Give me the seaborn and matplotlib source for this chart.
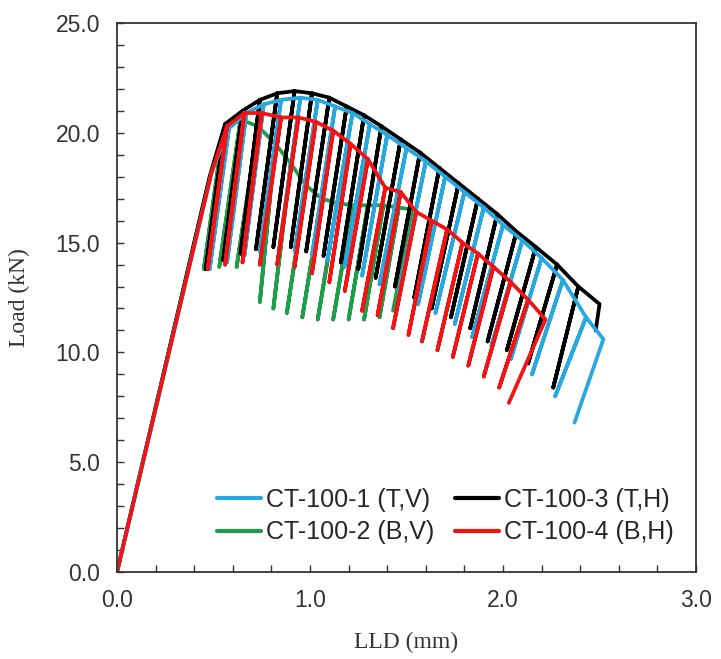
import pandas as pd
import seaborn as sns
import matplotlib.pyplot as plt
from matplotlib.ticker import MultipleLocator, FormatStrFormatter

# CT-100-1 (T,V)
ct1_start_x = [0.0, 0.49]
ct1_start_y = [0.0, 18.2]
ct1_top_x = [0.58, 0.67, 0.76, 0.85, 0.95, 1.04, 1.13, 1.22, 1.31, 1.40, 1.50,
             1.60, 1.70, 1.80, 1.90, 2.00, 2.10, 2.20, 2.31, 2.43, 2.52]
ct1_top_y = [20.2, 20.9, 21.3, 21.5, 21.6, 21.5, 21.2, 20.9, 20.4, 19.9, 19.3,
             18.7, 18.0, 17.3, 16.6, 15.8, 15.1, 14.3, 13.3, 11.6, 10.6]
ct1_bot_x = [0.48, 0.57, 0.66, 0.74, 0.84, 0.92, 1.01, 1.09, 1.18, 1.27, 1.36,
             1.46, 1.56, 1.65, 1.75, 1.84, 1.94, 2.04, 2.15, 2.27, 2.37]
ct1_bot_y = [13.8, 14.1, 14.4, 14.6, 14.7, 14.6, 14.4, 14.2, 13.9, 13.5, 13.1,
             12.7, 12.2, 11.8, 11.3, 10.7, 10.3, 9.7, 9.0, 8.0, 6.8]

# CT-100-2 (B,V)
ct2_start_x = [0.0, 0.48]
ct2_start_y = [0.0, 18.0]
ct2_top_x = [0.55, 0.64, 0.73, 0.82, 0.90, 0.98, 1.06, 1.14, 1.22, 1.30, 1.38,
             1.46, 1.53]
ct2_top_y = [20.1, 20.6, 20.3, 19.5, 18.6, 17.6, 17.0, 16.8, 16.7, 16.7, 16.7,
             16.6, 16.5]
ct2_bot_x = [0.45, 0.53, 0.62, 0.74, 0.81, 0.88, 0.96, 1.04, 1.12, 1.20, 1.28,
             1.36, 1.43]
ct2_bot_y = [13.8, 13.9, 13.9, 12.3, 12.0, 11.8, 11.6, 11.5, 11.5, 11.5, 11.5,
             11.6, 11.9]

# CT-100-3 (T,H)
ct3_start_x = [0.0, 0.48]
ct3_start_y = [0.0, 18.0]
ct3_top_x = [0.56, 0.65, 0.74, 0.83, 0.92, 1.01, 1.10, 1.19, 1.28, 1.37, 1.47,
             1.57, 1.67, 1.77, 1.87, 1.97, 2.07, 2.17, 2.28, 2.39, 2.50]
ct3_top_y = [20.4, 21.0, 21.5, 21.8, 21.9, 21.8, 21.6, 21.2, 20.8, 20.3, 19.7,
             19.1, 18.4, 17.7, 17.0, 16.3, 15.5, 14.8, 14.0, 13.0, 12.2]
ct3_bot_x = [0.46, 0.55, 0.64, 0.72, 0.81, 0.90, 0.98, 1.07, 1.16, 1.25, 1.34,
             1.44, 1.54, 1.63, 1.73, 1.83, 1.92, 2.02, 2.13, 2.26, 2.48]
ct3_bot_y = [13.8, 14.2, 14.5, 14.7, 14.8, 14.8, 14.6, 14.4, 14.1, 13.8, 13.4,
             13.0, 12.5, 12.0, 11.6, 11.1, 10.5, 10.1, 9.5, 8.4, 11.0]

# CT-100-4 (B,H)
ct4_start_x = [0.0, 0.49]
ct4_start_y = [0.0, 18.2]
ct4_top_x = [0.57, 0.66, 0.75, 0.85, 0.94, 1.03, 1.12, 1.21, 1.30, 1.39, 1.47,
             1.55, 1.63, 1.71, 1.79, 1.87, 1.95, 2.04, 2.13, 2.22]
ct4_top_y = [20.3, 20.9, 20.9, 20.7, 20.7, 20.5, 20.1, 19.5, 18.8, 17.5, 17.3,
             16.4, 16.0, 15.6, 15.0, 14.5, 13.9, 13.2, 12.4, 11.5]
ct4_bot_x = [0.47, 0.56, 0.65, 0.74, 0.83, 0.92, 1.01, 1.10, 1.18, 1.27, 1.35,
             1.43, 1.51, 1.58, 1.66, 1.74, 1.82, 1.90, 1.98, 2.03]
ct4_bot_y = [13.8, 14.0, 14.1, 14.0, 14.0, 13.9, 13.6, 13.2, 12.8, 11.9, 11.7,
             11.1, 10.8, 10.5, 10.1, 9.8, 9.4, 8.9, 8.4, 7.7]


def build_path(start_x, start_y, top_x, top_y, bot_x, bot_y):
    # envelope point -> unload to bottom -> reload back up, for each cycle
    xs, ys = list(start_x), list(start_y)
    n = len(top_x)
    for i in range(n):
        xs += [top_x[i], bot_x[i]]
        ys += [top_y[i], bot_y[i]]
        if i < n - 1:
            xs.append(top_x[i])
            ys.append(top_y[i])
    return pd.DataFrame({'LLD': xs, 'Load': ys})


series = {
    'CT-100-1 (T,V)': (build_path(ct1_start_x, ct1_start_y, ct1_top_x,
                                  ct1_top_y, ct1_bot_x, ct1_bot_y), '#29A8E0'),
    'CT-100-2 (B,V)': (build_path(ct2_start_x, ct2_start_y, ct2_top_x,
                                  ct2_top_y, ct2_bot_x, ct2_bot_y), '#1F9E4A'),
    'CT-100-3 (T,H)': (build_path(ct3_start_x, ct3_start_y, ct3_top_x,
                                  ct3_top_y, ct3_bot_x, ct3_bot_y), '#000000'),
    'CT-100-4 (B,H)': (build_path(ct4_start_x, ct4_start_y, ct4_top_x,
                                  ct4_top_y, ct4_bot_x, ct4_bot_y), '#F01414'),
}
draw_order = ['CT-100-2 (B,V)', 'CT-100-3 (T,H)', 'CT-100-1 (T,V)',
              'CT-100-4 (B,H)']
legend_order = ['CT-100-1 (T,V)', 'CT-100-2 (B,V)', 'CT-100-3 (T,H)',
                'CT-100-4 (B,H)']

sns.set_style('white')
plt.rcParams['font.family'] = ['Liberation Sans', 'DejaVu Sans']

fig = plt.figure(figsize=(7.21, 6.59), dpi=100)
ax = fig.add_axes([0.1623, 0.1320, 0.8031, 0.8331])

handles = {}
for name in draw_order:
    df, color = series[name]
    sns.lineplot(data=df, x='LLD', y='Load', sort=False, estimator=None,
                 color=color, lw=2.7, ax=ax, label=name)
    handles[name] = ax.lines[-1]
    handles[name].set_solid_joinstyle('round')
    handles[name].set_solid_capstyle('round')

ax.set_xlim(0, 3.0)
ax.set_ylim(0, 25.0)
ax.xaxis.set_major_locator(MultipleLocator(1.0))
ax.xaxis.set_minor_locator(MultipleLocator(0.2))
ax.yaxis.set_major_locator(MultipleLocator(5.0))
ax.yaxis.set_minor_locator(MultipleLocator(1.0))
ax.xaxis.set_major_formatter(FormatStrFormatter('%.1f'))
ax.yaxis.set_major_formatter(FormatStrFormatter('%.1f'))
ax.tick_params(which='both', direction='in', length=5, width=1.0,
               color='#333333', bottom=True, left=True, top=False, right=False)
ax.tick_params(which='major', labelsize=16.5, pad=12, labelcolor='#333333')
for sp in ax.spines.values():
    sp.set_color('#333333')
    sp.set_linewidth(1.3)

ax.set_xlabel('LLD (mm)', family='Liberation Serif', fontsize=17,
              color='#333333')
ax.set_ylabel('Load (kN)', family='Liberation Serif', fontsize=17,
              color='#333333')
ax.xaxis.set_label_coords(0.5, -0.109)
ax.yaxis.set_label_coords(-0.150, 0.5)

leg = ax.legend([handles[n] for n in legend_order], legend_order, ncol=2,
                loc='center', bbox_to_anchor=(0.567, 0.102), frameon=False,
                fontsize=18, handlelength=1.75, handletextpad=0.2,
                columnspacing=0.85, labelspacing=0.35, borderpad=0.2)
for line in leg.get_lines():
    line.set_linewidth(3.0)

fig.savefig('out.png', dpi=100)
